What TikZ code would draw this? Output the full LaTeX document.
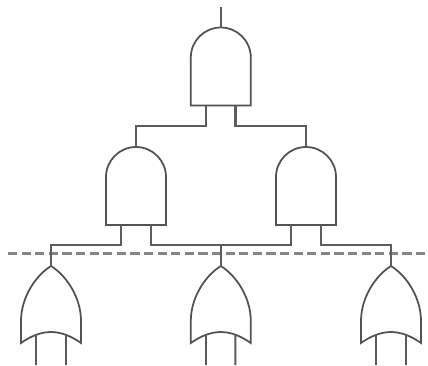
\documentclass[tikz,border=0pt]{standalone}
\usetikzlibrary{calc}
\tikzset{
  wire/.style={line width=2.05pt,draw=black!64,line join=miter},
  gateline/.style={line width=1.75pt,draw=black!68,line join=miter,fill=none},
  cutline/.style={line width=2.2pt,draw=black!48,dash pattern=on 9.2pt off 4.4pt},
  gatebody/.style={inner sep=0pt,outer sep=0pt,minimum width=60pt,minimum height=78pt}
}
% name, apex x, apex y
\newcommand{\andgate}[3]{%
  \node[gatebody,anchor=north] (#1) at (#2,#3) {};
  \draw[gateline] (#2-30,#3+30) arc[start angle=180,end angle=0,x radius=30,y radius=-30]
    -- (#2+30,#3+78) -- (#2-30,#3+78) -- cycle;
  \coordinate (#1-out) at (#2,#3);
  \coordinate (#1-a) at (#2-14.7,#3+78);
  \coordinate (#1-b) at (#2+14.7,#3+78);
}
\newcommand{\orgate}[3]{%
  \node[gatebody,anchor=north,minimum height=77pt] (#1) at (#2,#3) {};
  \draw[gateline] (#2,#3) .. controls (#2-16,#3+10) and (#2-30,#3+32) .. (#2-30,#3+55)
    -- (#2-30,#3+77) .. controls (#2-20,#3+70) and (#2-10,#3+66) .. (#2,#3+66)
    .. controls (#2+10,#3+66) and (#2+20,#3+70) .. (#2+30,#3+77)
    -- (#2+30,#3+55) .. controls (#2+30,#3+32) and (#2+16,#3+10) .. (#2,#3);
  \coordinate (#1-out) at (#2,#3);
  \coordinate (#1-a) at (#2-14.6,#3+69);
  \coordinate (#1-b) at (#2+14.6,#3+69);
}
\begin{document}
\begin{tikzpicture}[x=1pt,y=-1pt]
\useasboundingbox (0,0) rectangle (428,365);
\fill[white] (0,0) rectangle (428,365);
\andgate{top}{220.8}{27.5}
\andgate{left}{136}{147}
\andgate{right}{306}{147}
\orgate{orL}{51}{266}
\orgate{orM}{220.8}{266}
\orgate{orR}{391}{266}
\coordinate (topend) at (220.8,7);
\coordinate (busY) at (0,245);
\coordinate (midY) at (0,126);
\coordinate (cutA) at (8,253.4);
\coordinate (cutB) at (428,253.4);
\coordinate (endLa) at (36.4,365);
\coordinate (endLb) at (65.6,365);
\coordinate (endMa) at (206.2,365);
\coordinate (endMb) at (235.4,365);
\coordinate (endRa) at (376.4,365);
\coordinate (endRb) at (405.6,365);
\draw[cutline] (cutA) -- (cutB);
\draw[wire] (topend) -- (top-out);
\draw[wire] (top-a) |- (midY -| left-out) -- (left-out);
\draw[wire] (top-b) |- (midY -| right-out) -- (right-out);
\draw[wire] (left-a) |- (busY -| orL-out) -- (orL-out);
\draw[wire] (left-b) |- (busY -| orM-out) -- (orM-out);
\draw[wire] (right-a) |- (busY -| orM-out);
\draw[wire] (right-b) |- (busY -| orR-out) -- (orR-out);
\foreach \g/\e in {orL/L,orM/M,orR/R}{
  \draw[wire] (\g-a) -- (end\e a);
  \draw[wire] (\g-b) -- (end\e b);
}
\end{tikzpicture}
\end{document}
